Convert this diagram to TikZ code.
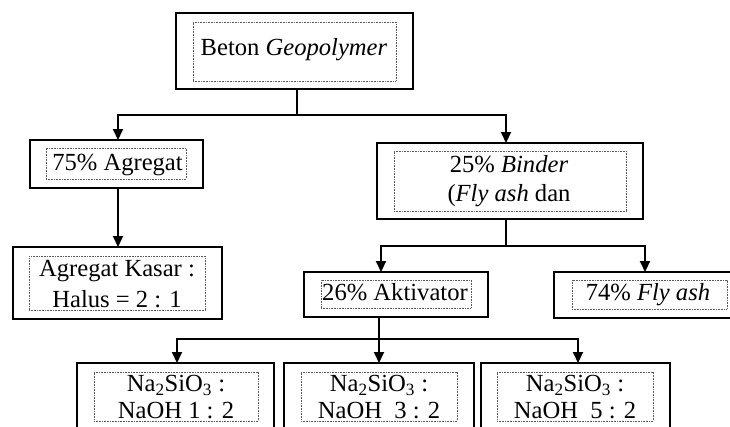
\documentclass[tikz,border=0pt]{standalone}
\usepackage{fontspec}
\setmainfont{Liberation Serif}
\usetikzlibrary{arrows.meta}
\begin{document}
\begin{tikzpicture}[x=1pt,y=-1pt,
  outer/.style={draw=black,line width=2pt,fill=white,inner sep=0pt,outer sep=0pt},
  innerbox/.style={draw=black!65,line width=0.8pt,dash pattern=on 0.8pt off 0.8pt,inner sep=0pt,outer sep=0pt},
  txt/.style={font=\fontsize{24.6}{29}\selectfont,inner sep=0pt,anchor=base},
  conn/.style={draw=black,line width=2pt},
  arr/.style={conn,-{Triangle[width=10pt,length=11pt]}}]
\clip (0,0) rectangle (730,426);
\fill[white] (0,0) rectangle (730,426);
% boxes
\node[outer,minimum width=237pt,minimum height=76pt] (top) at (294.5,51) {};
\node[innerbox,minimum width=203pt,minimum height=59pt] (topI) at (294.5,51.5) {};
\node[txt] (topT) at (294,55) {Beton \textit{Geopolymer}};

\node[outer,minimum width=173pt,minimum height=48pt] (agregat) at (116.5,164) {};
\node[innerbox,minimum width=140pt,minimum height=31pt] (agregatI) at (116,163.5) {};
\node[txt] (agregatT) at (117.5,170) {75\% Agregat};

\node[outer,minimum width=209pt,minimum height=72pt] (kasar) at (117.5,283) {};
\node[innerbox,minimum width=176pt,minimum height=54pt] (kasarI) at (117,283) {};
\node[txt] (kasarT1) at (117,276.5) {Agregat Kasar :};
\node[txt] (kasarT2) at (117,307.5) {Halus = 2 : 1};

\node[outer,minimum width=266pt,minimum height=76pt] (binder) at (510,181) {};
\node[innerbox,minimum width=232pt,minimum height=60pt] (binderI) at (510,181) {};
\node[txt] (binderT1) at (509,172) {25\% \textit{Binder}};
\node[txt] (binderT2) at (509,201.5) {(\textit{Fly ash} dan};

\node[outer,minimum width=184pt,minimum height=45pt] (aktivator) at (396,294.5) {};
\node[innerbox,minimum width=150pt,minimum height=28pt] (aktivatorI) at (396,294) {};
\node[txt] (aktivatorT) at (395,300.5) {26\% Aktivator};

\node[outer,minimum width=191pt,minimum height=46pt] (flyash) at (649.5,295) {};
\node[innerbox,minimum width=155pt,minimum height=29pt] (flyashI) at (649.5,294.5) {};
\node[txt] (flyashT) at (648,300.5) {74\% \textit{Fly ash}};

\node[outer,minimum width=197pt,minimum height=68pt] (b1) at (175.5,397) {};
\node[innerbox,minimum width=164pt,minimum height=49pt] (b1I) at (176,396.5) {};
\node[txt] (b1T1) at (176,391.5) {Na\textsubscript{2}SiO\textsubscript{3} :};
\node[txt] (b1T2) at (176,418.5) {NaOH 1 : 2};

\node[outer,minimum width=190pt,minimum height=68pt] (b2) at (379,397) {};
\node[innerbox,minimum width=156pt,minimum height=49pt] (b2I) at (379,396.5) {};
\node[txt] (b2T1) at (379,391.5) {Na\textsubscript{2}SiO\textsubscript{3} :};
\node[txt] (b2T2) at (379,418.5) {NaOH\ \ 3 : 2};

\node[outer,minimum width=189pt,minimum height=68pt] (b3) at (575.5,397) {};
\node[innerbox,minimum width=156pt,minimum height=49pt] (b3I) at (575,396.5) {};
\node[txt] (b3T1) at (575,391.5) {Na\textsubscript{2}SiO\textsubscript{3} :};
\node[txt] (b3T2) at (575,418.5) {NaOH\ \ 5 : 2};

% connectors
\coordinate (c1) at (297,115);
\coordinate (hL) at (118,115);
\coordinate (hR) at (506,115);
\draw[conn] (top.south -| c1) -- (c1);
\draw[arr] (c1) -| (agregat.north -| hL);
\draw[arr] (c1) -| (binder.north -| hR);
\draw[arr] (agregat.south -| hL) -- (kasar.north -| hL);

\coordinate (b0) at (506,246);
\coordinate (bL) at (381,246);
\coordinate (bR) at (645,246);
\draw[conn] (binder.south -| b0) -- (b0);
\draw[arr] (b0) -| (aktivator.north -| bL);
\draw[arr] (b0) -| (flyash.north -| bR);

\coordinate (a0) at (379,339);
\coordinate (aL) at (177,339);
\coordinate (aR) at (578,339);
\draw[arr] (aktivator.south -| a0) -- (b2.north -| a0);
\draw[arr] (a0) -| (b1.north -| aL);
\draw[arr] (a0) -| (b3.north -| aR);
\end{tikzpicture}
\end{document}
